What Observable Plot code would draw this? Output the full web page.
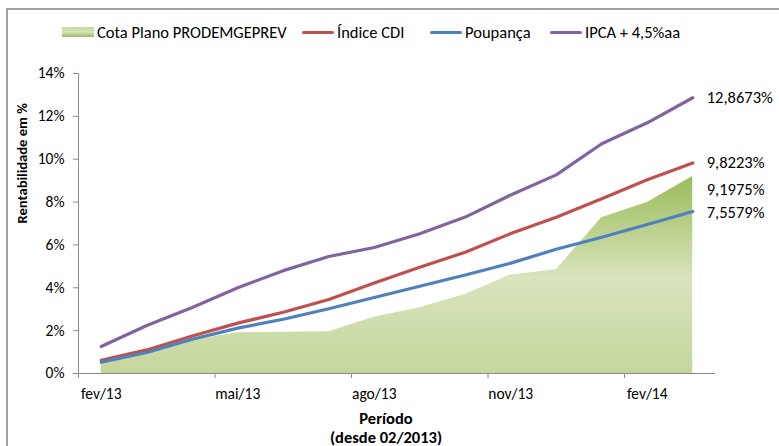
<!DOCTYPE html>
<html>
<head>
<meta charset="utf-8">
<script src="https://cdn.jsdelivr.net/npm/d3@7"></script>
<script src="https://cdn.jsdelivr.net/npm/@observablehq/plot@0.6"></script>
<style>
  html, body { margin: 0; padding: 0; background: #fff; }
  #wrap { position: relative; width: 779px; height: 446px; overflow: hidden; font-family: Carlito, Lato, sans-serif; color: #000; }
  #frame { position: absolute; left: 6px; top: 8px; width: 800px; height: 500px; border-left: 2px solid #a0a0a0; border-top: 2px solid #a0a0a0; }
  #legend { position: absolute; top: 0; left: 0; width: 779px; height: 50px; font-size: 16.5px; white-space: nowrap; }
  .item { position: absolute; top: 22px; height: 20px; display: flex; align-items: center; }
  .sw { width: 32px; margin-right: 3px; }
  .ln { height: 3px; border-radius: 1.5px; }
  .ar { height: 10px; background: linear-gradient(#c3d69b, #d7e4bd 50%, #9bbb59); }
  #chart { position: absolute; left: 0; top: 50px; }
</style>
</head>
<body>
<div id="wrap">
  <div id="frame"></div>
  <div id="legend"></div>
  <div id="chart"></div>
</div>
<script>
const months = ["fev/13","mar/13","abr/13","mai/13","jun/13","jul/13","ago/13","set/13","out/13","nov/13","dez/13","jan/14","fev/14","mar/14"];
const seriesNames = ["Cota Plano PRODEMGEPREV", "Índice CDI", "Poupança", "IPCA + 4,5%aa"];
const cota     = [0.48, 0.95, 1.55, 1.90, 1.93, 1.95, 2.63, 3.07, 3.69, 4.60, 4.84, 7.27, 7.98, 9.1975];
const cdi      = [0.61, 1.10, 1.75, 2.35, 2.86, 3.45, 4.22, 4.96, 5.66, 6.53, 7.29, 8.15, 9.04, 9.8223];
const poupanca = [0.53, 0.98, 1.60, 2.12, 2.53, 3.02, 3.55, 4.07, 4.60, 5.15, 5.80, 6.36, 6.95, 7.5579];
const ipca     = [1.26, 2.24, 3.08, 4.00, 4.80, 5.46, 5.88, 6.52, 7.30, 8.33, 9.27, 10.72, 11.70, 12.8673];
const yTicks = [0, 2, 4, 6, 8, 10, 12, 14];
const xLabelMonths = ["fev/13","mai/13","ago/13","nov/13","fev/14"];
const finalLabels = ["9,1975%", "9,8223%", "7,5579%", "12,8673%"];
const colors = ["#9bbb59", "#c0504d", "#4f81bd", "#8064a2"];

const idx = months.map((m, i) => i);
const lineSeries = [
  {name: seriesNames[1], values: cdi, color: colors[1], label: finalLabels[1], dy: 0},
  {name: seriesNames[2], values: poupanca, color: colors[2], label: finalLabels[2], dy: 1},
  {name: seriesNames[3], values: ipca, color: colors[3], label: finalLabels[3], dy: 0}
];
const last = months.length - 1;
const labelTicks = xLabelMonths.map(m => months.indexOf(m));
const boundaryTicks = labelTicks.map(i => i - 0.5);

// legend (item left edges in pixels)
const legendLeft = [62, 302, 430, 550];
const legend = document.getElementById("legend");
seriesNames.forEach((n, k) => {
  const it = document.createElement("div");
  it.className = "item";
  it.style.left = legendLeft[k] + "px";
  const sw = document.createElement("div");
  sw.className = "sw " + (k === 0 ? "ar" : "ln");
  if (k > 0) sw.style.background = colors[k];
  const tx = document.createElement("span");
  tx.textContent = n;
  it.appendChild(sw); it.appendChild(tx);
  legend.appendChild(it);
});

const font = "Carlito, Lato, sans-serif";
const plot = Plot.plot({
  width: 779,
  height: 396,
  marginTop: 23,
  marginBottom: 73,
  marginLeft: 78,
  marginRight: 64,
  style: {fontFamily: font, fontSize: "15.5px", color: "#000", background: "transparent"},
  x: {type: "linear", domain: [-0.5, last + 0.5]},
  y: {domain: [0, 14]},
  marks: [
    Plot.areaY(idx, {x: i => i, y: i => cota[i], fill: "url(#cotaGrad)", curve: "linear"}),
    Plot.ruleX([-0.5], {stroke: "#8c8c8c", strokeWidth: 1}),
    Plot.ruleY([0], {stroke: "#8c8c8c", strokeWidth: 1}),
    Plot.axisY({ticks: yTicks, tickFormat: d => d + "%", tickSize: 5, tickPadding: 9, stroke: "#8c8c8c", label: null, fontSize: 15.5}),
    Plot.axisX({ticks: boundaryTicks, tickFormat: () => "", tickSize: 5, stroke: "#8c8c8c", label: null}),
    Plot.axisX({ticks: labelTicks, tickFormat: i => months[i], tickSize: 0, tickPadding: 14, label: null, fontSize: 15.5}),
    ...lineSeries.map(s => Plot.line(idx, {x: i => i, y: i => s.values[i], stroke: s.color, strokeWidth: 3.2, strokeLinecap: "round", strokeLinejoin: "round"})),
    ...lineSeries.map(s => Plot.text([last], {x: i => i, y: i => s.values[i], text: () => s.label, textAnchor: "start", dx: 14, dy: s.dy, fontSize: 16.5})),
    Plot.text([last], {x: i => i, y: i => cota[i], text: () => finalLabels[0], textAnchor: "start", dx: 14, dy: 13, fontSize: 16.5}),
    Plot.text(["Rentabilidade em %"], {frameAnchor: "left", text: d => d, rotate: -90, dx: -56, fontWeight: "bold", fontSize: 14.6}),
    Plot.text(["Período"], {frameAnchor: "bottom", text: d => d, dx: -11, dy: 50, fontWeight: "bold", fontSize: 16.5}),
    Plot.text(["(desde 02/2013)"], {frameAnchor: "bottom", text: d => d, dx: -11, dy: 69, fontWeight: "bold", fontSize: 16.5})
  ]
});
d3.select(plot).insert("defs", ":first-child").html(
  `<linearGradient id="cotaGrad" x1="0" y1="0" x2="0" y2="1">
     <stop offset="0%" stop-color="#9bbb59"/>
     <stop offset="52%" stop-color="#d8e4bd"/>
     <stop offset="100%" stop-color="#c3d69b"/>
   </linearGradient>`);
document.getElementById("chart").appendChild(plot);
</script>
</body>
</html>
